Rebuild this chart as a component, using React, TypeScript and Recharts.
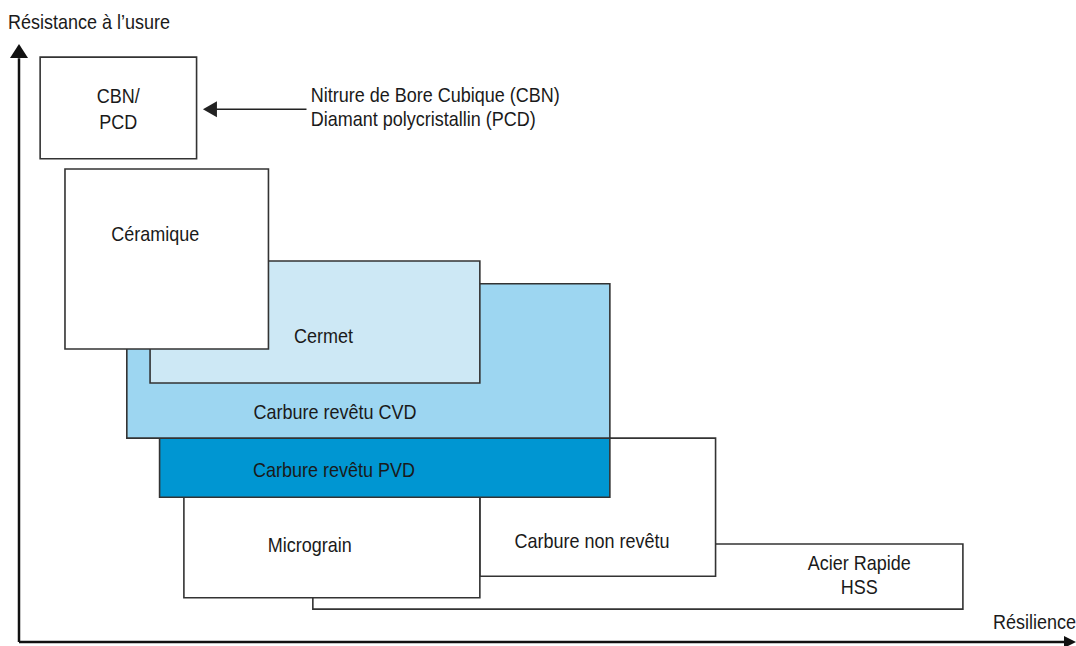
import React from 'react';
import { ComposedChart, XAxis, YAxis, ReferenceArea, ReferenceDot, ReferenceLine } from 'recharts';

// Material families: resilience (x) range and wear resistance (y) range, drawn back to front
const materials = ['HSS', 'Carbure non revêtu', 'Micrograin', 'PVD', 'CVD', 'Cermet', 'Céramique', 'CBN/PCD'];
const xStart = [27.8, 43.6, 15.6, 13.3, 10.2, 12.4, 4.35, 2.0];
const xEnd = [89.3, 65.9, 43.6, 55.9, 55.9, 43.6, 23.6, 16.8];
const yStart = [5.5, 11.0, 7.4, 24.2, 34.1, 43.3, 49.0, 80.8];
const yEnd = [16.4, 34.1, 24.2, 34.1, 59.9, 63.7, 79.1, 97.8];
const fills = ['#ffffff', '#ffffff', '#ffffff', '#0096d2', '#9dd6f1', '#cde8f5', '#ffffff', '#ffffff'];

// Text labels: text, anchor position (data units), alignment
const labelTexts = [
  'CBN/', 'PCD', 'Céramique', 'Cermet', 'Carbure revêtu CVD', 'Carbure revêtu PVD',
  'Micrograin', 'Carbure non revêtu', 'Acier Rapide', 'HSS',
  'Nitrure de Bore Cubique (CBN)', 'Diamant polycristallin (PCD)',
  'Résistance à l’usure', 'Résilience',
];
const labelX = [9.4, 9.4, 12.9, 28.8, 29.9, 29.8, 27.5, 54.2, 79.5, 79.5, 27.6, 27.6, -1.05, 100];
const labelY = [91.2, 87.0, 68.2, 51.2, 38.5, 28.8, 16.2, 16.9, 13.2, 9.2, 91.5, 87.5, 103.7, 3.3];
const labelAlign = ['middle', 'middle', 'middle', 'middle', 'middle', 'middle', 'middle', 'middle', 'middle', 'middle', 'start', 'start', 'start', 'end'];

// Annotation arrow (data units)
const arrowFromX = 27.2;
const arrowToX = 17.4;
const arrowY = 89.1;

const FONT = "'Liberation Sans', Arial, sans-serif";
const STROKE = '#333333';

const TriangleLeft = (p: any) => (
  <path d={`M${p.cx},${p.cy} L${p.cx + 14},${p.cy - 8} L${p.cx + 14},${p.cy + 8} Z`} fill="#222" />
);
const TriangleUp = (p: any) => (
  <path d={`M${p.cx},${p.cy} L${p.cx - 9},${p.cy + 14} L${p.cx + 9},${p.cy + 14} Z`} fill="#111" />
);
const TriangleRight = (p: any) => (
  <path d={`M${p.cx},${p.cy} L${p.cx - 12},${p.cy - 6} L${p.cx - 12},${p.cy + 6} Z`} fill="#111" />
);

export default function App() {
  return (
    <div style={{ position: 'absolute', left: 0, top: 0, background: '#fff' }}>
      <ComposedChart width={1076} height={646} margin={{ top: 44, right: 0, bottom: 4, left: 19 }} data={[]}>
        <XAxis type="number" dataKey="x" domain={[0, 100]} hide allowDataOverflow />
        <YAxis type="number" dataKey="y" domain={[0, 100]} hide allowDataOverflow />
        {materials.map((m, i) => (
          <ReferenceArea
            key={m}
            x1={xStart[i]}
            x2={xEnd[i]}
            y1={yStart[i]}
            y2={yEnd[i]}
            fill={fills[i]}
            fillOpacity={1}
            stroke={STROKE}
            strokeWidth={1.6}
            ifOverflow="visible"
          />
        ))}
        {/* axes */}
        <ReferenceLine segment={[{ x: 0, y: 0 }, { x: 0, y: 97.6 }]} stroke="#111" strokeWidth={2.5} ifOverflow="visible" />
        <ReferenceLine segment={[{ x: 0, y: 0 }, { x: 99, y: 0 }]} stroke="#111" strokeWidth={2.5} ifOverflow="visible" />
        <ReferenceDot x={0} y={100} r={0} shape={TriangleUp} ifOverflow="visible" />
        <ReferenceDot x={100} y={0} r={0} shape={TriangleRight} ifOverflow="visible" />
        {/* annotation arrow */}
        <ReferenceLine segment={[{ x: arrowFromX, y: arrowY }, { x: arrowToX + 1, y: arrowY }]} stroke="#222" strokeWidth={1.5} ifOverflow="visible" />
        <ReferenceDot x={arrowToX} y={arrowY} r={0} shape={TriangleLeft} ifOverflow="visible" />
        {labelTexts.map((t, i) => (
          <ReferenceDot
            key={t}
            x={labelX[i]}
            y={labelY[i]}
            r={0}
            ifOverflow="visible"
            shape={(p: any) => (
              <text
                transform={`translate(${p.cx},${p.cy}) scale(0.9,1)`}
                x={0}
                y={0}
                textAnchor={labelAlign[i] as any}
                dominantBaseline="central"
                fontFamily={FONT}
                fontSize={20}
                fill="#1a1a1a"
              >
                {t}
              </text>
            )}
          />
        ))}
      </ComposedChart>
    </div>
  );
}
